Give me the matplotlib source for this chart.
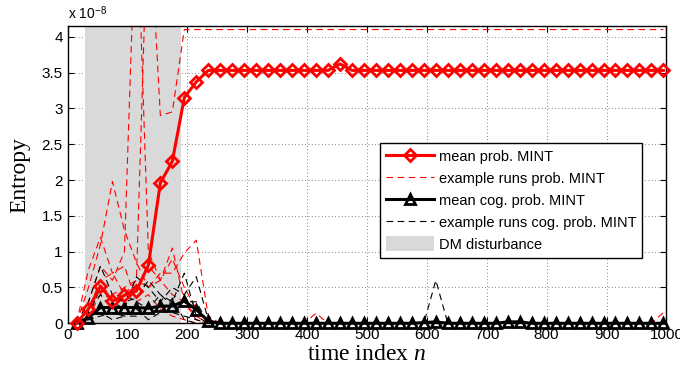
import matplotlib
matplotlib.use('Agg')
import matplotlib.pyplot as plt
from matplotlib.lines import Line2D
from matplotlib.patches import Patch

plt.rcParams['font.family'] = ['Liberation Sans', 'DejaVu Sans']
plt.rcParams['mathtext.fontset'] = 'custom'
plt.rcParams['mathtext.rm'] = 'Liberation Serif'
plt.rcParams['mathtext.it'] = 'Liberation Serif:italic'
plt.rcParams['mathtext.sf'] = 'Liberation Sans'

# time index of the samples
n = [15, 35, 55, 75, 95, 115, 135, 155, 175, 195,
     215, 235, 255, 275, 295, 315, 335, 355, 375, 395,
     415, 435, 455, 475, 495, 515, 535, 555, 575, 595,
     615, 635, 655, 675, 695, 715, 735, 755, 775, 795,
     815, 835, 855, 875, 895, 915, 935, 955, 975, 995]

# entropy values in units of 1e-8
mean_prob = [0.00, 0.20, 0.52, 0.31, 0.39, 0.45, 0.81, 1.96, 2.26, 3.15,
             3.37, 3.53, 3.53, 3.53, 3.53, 3.53, 3.53, 3.53, 3.53, 3.53,
             3.53, 3.53, 3.62, 3.53, 3.53, 3.53, 3.53, 3.53, 3.53, 3.53,
             3.53, 3.53, 3.53, 3.53, 3.53, 3.53, 3.53, 3.53, 3.53, 3.53,
             3.53, 3.53, 3.53, 3.53, 3.53, 3.53, 3.53, 3.53, 3.53, 3.53]

mean_cog = [0.00, 0.08, 0.22, 0.22, 0.22, 0.22, 0.21, 0.24, 0.24, 0.31,
            0.19, 0.03, 0.00, 0.00, 0.00, 0.00, 0.00, 0.00, 0.00, 0.00,
            0.00, 0.00, 0.00, 0.00, 0.00, 0.00, 0.00, 0.00, 0.00, 0.01,
            0.02, 0.00, 0.00, 0.00, 0.00, 0.00, 0.02, 0.02, 0.00, 0.00,
            0.00, 0.00, 0.00, 0.00, 0.00, 0.00, 0.00, 0.00, 0.00, 0.00]

runs_prob = [
    [0.00, 0.75, 1.20, 0.70, 0.80, 0.30, 0.40, 0.20, 0.10, 0.05,
     0.00, 0.00, 0.00, 0.00, 0.00, 0.00, 0.00, 0.00, 0.00, 0.00,
     0.14, 0.00, 0.00, 0.00, 0.00, 0.00, 0.00, 0.00, 0.00, 0.00,
     0.00, 0.00, 0.00, 0.00, 0.00, 0.00, 0.03, 0.00, 0.00, 0.00,
     0.00, 0.00, 0.00, 0.00, 0.00, 0.00, 0.00, 0.00, 0.00, 0.15],
    [0.00, 0.50, 1.10, 1.98, 1.30, 0.85, 0.50, 0.60, 0.90, 0.50,
     0.20, 0.00, 0.00, 0.00, 0.00, 0.00, 0.00, 0.00, 0.00, 0.00,
     0.00, 0.00, 0.00, 0.00, 0.00, 0.00, 0.00, 0.00, 0.00, 0.00,
     0.00, 0.00, 0.00, 0.00, 0.00, 0.00, 0.00, 0.00, 0.00, 0.00,
     0.00, 0.00, 0.00, 0.00, 0.00, 0.00, 0.00, 0.00, 0.00, 0.00],
    [0.00, 0.30, 0.80, 0.60, 1.00, 6.00, 1.00, 0.60, 0.40, 0.30,
     0.05, 0.00, 0.00, 0.00, 0.00, 0.00, 0.00, 0.00, 0.00, 0.00,
     0.00, 0.00, 0.00, 0.00, 0.00, 0.00, 0.00, 0.00, 0.00, 0.00,
     0.00, 0.00, 0.00, 0.00, 0.00, 0.00, 0.00, 0.00, 0.00, 0.00,
     0.00, 0.00, 0.00, 0.00, 0.00, 0.00, 0.00, 0.00, 0.00, 0.00],
    [0.00, 0.20, 0.60, 0.70, 0.40, 0.60, 6.00, 2.90, 2.95, 4.10,
     4.10, 4.10, 4.10, 4.10, 4.10, 4.10, 4.10, 4.10, 4.10, 4.10,
     4.10, 4.10, 4.10, 4.10, 4.10, 4.10, 4.10, 4.10, 4.10, 4.10,
     4.10, 4.10, 4.10, 4.10, 4.10, 4.10, 4.10, 4.10, 4.10, 4.10,
     4.10, 4.10, 4.10, 4.10, 4.10, 4.10, 4.10, 4.10, 4.10, 4.10],
    [0.00, 0.10, 0.40, 0.35, 0.30, 0.50, 0.80, 0.60, 1.05, 0.30,
     0.10, 0.00, 0.00, 0.00, 0.00, 0.00, 0.00, 0.00, 0.00, 0.00,
     0.00, 0.00, 0.00, 0.00, 0.00, 0.00, 0.00, 0.00, 0.00, 0.00,
     0.00, 0.00, 0.00, 0.00, 0.00, 0.00, 0.00, 0.00, 0.00, 0.00,
     0.00, 0.00, 0.00, 0.00, 0.00, 0.00, 0.00, 0.00, 0.00, 0.00],
    [0.00, 0.20, 0.50, 0.40, 0.50, 0.60, 0.50, 0.70, 0.70, 0.98,
     1.16, 0.10, 0.00, 0.00, 0.00, 0.00, 0.00, 0.00, 0.00, 0.00,
     0.00, 0.00, 0.00, 0.00, 0.00, 0.00, 0.00, 0.00, 0.00, 0.00,
     0.00, 0.00, 0.00, 0.00, 0.00, 0.00, 0.00, 0.00, 0.00, 0.00,
     0.00, 0.00, 0.00, 0.00, 0.00, 0.00, 0.00, 0.00, 0.00, 0.00],
]

runs_cog = [
    [0.00, 0.30, 0.80, 0.40, 0.30, 0.35, 0.60, 0.40, 0.30, 0.70,
     0.10, 0.00, 0.00, 0.00, 0.00, 0.00, 0.00, 0.00, 0.00, 0.00,
     0.00, 0.00, 0.00, 0.00, 0.00, 0.00, 0.00, 0.00, 0.00, 0.00,
     0.00, 0.00, 0.00, 0.00, 0.00, 0.00, 0.00, 0.00, 0.00, 0.00,
     0.00, 0.00, 0.00, 0.00, 0.00, 0.00, 0.00, 0.00, 0.00, 0.00],
    [0.00, 0.10, 0.50, 0.30, 0.20, 0.65, 0.50, 0.30, 0.50, 0.40,
     0.65, 0.05, 0.00, 0.00, 0.00, 0.00, 0.00, 0.00, 0.00, 0.00,
     0.00, 0.00, 0.00, 0.00, 0.00, 0.00, 0.00, 0.00, 0.00, 0.00,
     0.00, 0.00, 0.00, 0.00, 0.00, 0.00, 0.00, 0.00, 0.00, 0.00,
     0.00, 0.00, 0.00, 0.00, 0.00, 0.00, 0.00, 0.00, 0.00, 0.00],
    [0.00, 0.05, 0.10, 0.15, 0.10, 0.10, 0.15, 0.20, 0.15, 0.10,
     0.05, 0.00, 0.00, 0.00, 0.00, 0.00, 0.00, 0.00, 0.00, 0.00,
     0.00, 0.00, 0.00, 0.00, 0.00, 0.00, 0.00, 0.00, 0.00, 0.00,
     0.60, 0.00, 0.00, 0.00, 0.00, 0.00, 0.00, 0.00, 0.00, 0.00,
     0.00, 0.00, 0.00, 0.00, 0.00, 0.00, 0.00, 0.00, 0.00, 0.00],
    [0.00, 0.20, 0.40, 0.20, 0.40, 0.30, 0.20, 0.40, 0.25, 0.30,
     0.30, 0.00, 0.00, 0.00, 0.00, 0.00, 0.00, 0.00, 0.00, 0.00,
     0.00, 0.00, 0.00, 0.00, 0.00, 0.00, 0.00, 0.00, 0.00, 0.00,
     0.00, 0.00, 0.00, 0.00, 0.00, 0.00, 0.00, 0.00, 0.00, 0.00,
     0.00, 0.00, 0.00, 0.00, 0.00, 0.00, 0.00, 0.00, 0.00, 0.00],
    [0.00, 0.05, 0.15, 0.05, 0.10, 0.20, 0.05, 0.15, 0.35, 0.05,
     0.00, 0.00, 0.00, 0.00, 0.00, 0.00, 0.00, 0.00, 0.00, 0.00,
     0.00, 0.00, 0.00, 0.00, 0.00, 0.00, 0.00, 0.00, 0.00, 0.00,
     0.00, 0.00, 0.00, 0.00, 0.00, 0.00, 0.00, 0.00, 0.00, 0.00,
     0.00, 0.00, 0.00, 0.00, 0.00, 0.00, 0.00, 0.00, 0.00, 0.00],
]

disturbance = (30, 190)
x_ticks = [0, 100, 200, 300, 400, 500, 600, 700, 800, 900, 1000]
y_ticks = [0, 0.5, 1, 1.5, 2, 2.5, 3, 3.5, 4]
y_ticklabels = ['0', '0.5', '1', '1.5', '2', '2.5', '3', '3.5', '4']

fig = plt.figure(figsize=(6.8, 3.71), dpi=100)
ax = fig.add_axes([0.0993, 0.1286, 0.8807, 0.8014])

ax.set_axisbelow(True)
ax.grid(True, linestyle=(0, (1, 3)), color='0.35', linewidth=0.6)
ax.axvspan(disturbance[0], disturbance[1], color='#d9d9d9', lw=0, zorder=1)

for r in runs_prob:
    ax.plot(n, r, color='red', ls=(0, (6, 4)), lw=0.8, zorder=2)
for r in runs_cog:
    ax.plot(n, r, color='black', ls=(0, (6, 4)), lw=0.8, zorder=2)

ax.plot(n, mean_cog, color='black', lw=2.2, marker='^', ms=7, mfc='none',
        mew=2.0, clip_on=False, zorder=4)
ax.plot(n, mean_prob, color='red', lw=2.2, marker='D', ms=6.5, mfc='none',
        mew=2.0, clip_on=False, zorder=5)

ax.set_xlim(0, 1000)
ax.set_ylim(0, 4.15)
ax.set_xticks(x_ticks)
ax.set_yticks(y_ticks)
ax.set_yticklabels(y_ticklabels)
ax.tick_params(direction='in', top=True, right=True, length=4, width=0.8,
               labelsize=11)
for s in ax.spines.values():
    s.set_linewidth(1.0)

ax.set_xlabel('time index $n$', family=['Liberation Serif'], fontsize=17,
              labelpad=1)
ax.set_ylabel('Entropy', family=['Liberation Serif'], fontsize=17, labelpad=8)
ax.text(0, 1.015, r'x 10$^{\mathsf{-8}}$', transform=ax.transAxes,
        ha='left', va='bottom', fontsize=10)

handles = [
    Line2D([], [], color='red', lw=2.2, marker='D', ms=6.5, mfc='none', mew=2.0),
    Line2D([], [], color='red', lw=0.8, ls=(0, (6, 4))),
    Line2D([], [], color='black', lw=2.2, marker='^', ms=7, mfc='none', mew=2.0),
    Line2D([], [], color='black', lw=0.8, ls=(0, (6, 4))),
    Patch(facecolor='#d9d9d9', edgecolor='none'),
]
labels = ['mean prob. MINT', 'example runs prob. MINT', 'mean cog. prob. MINT',
          'example runs cog. prob. MINT', 'DM disturbance']
leg = ax.legend(handles, labels, loc='upper right', bbox_to_anchor=(0.96, 0.607),
                fontsize=10.5, fancybox=False, framealpha=1, edgecolor='black',
                handlelength=3.3, handleheight=1.2, labelspacing=0.45,
                borderpad=0.4, handletextpad=0.35, borderaxespad=0)
leg.get_frame().set_linewidth(1.0)

fig.savefig('out.png', dpi=100)
